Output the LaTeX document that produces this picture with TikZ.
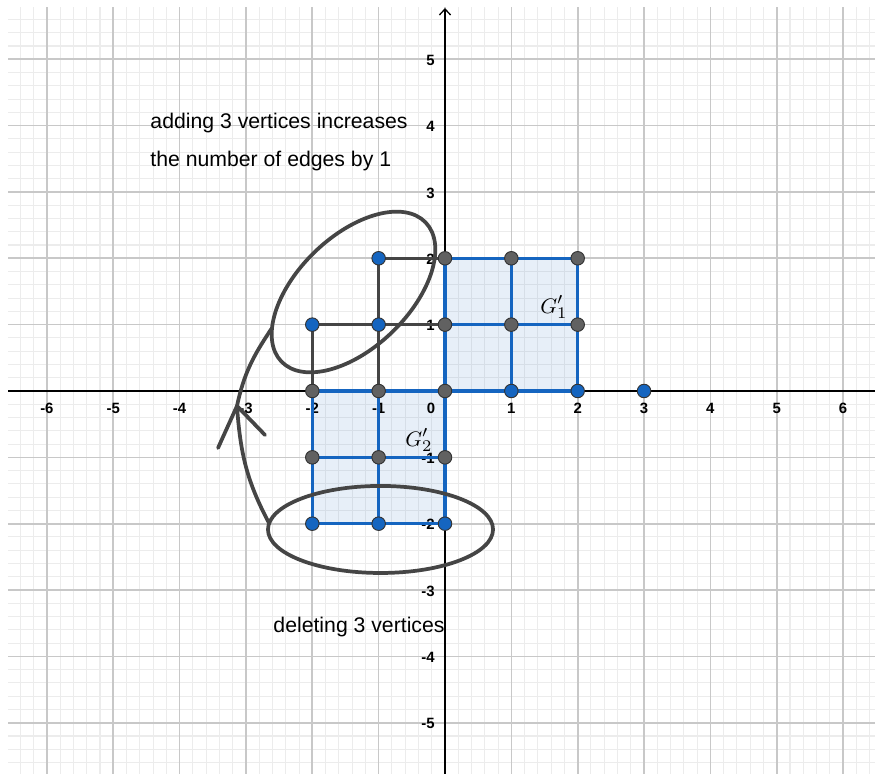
\documentclass[tikz,border=0pt]{standalone}
\usepackage{fontspec}
\setmainfont{Liberation Sans}
\usetikzlibrary{arrows.meta}
\definecolor{ggblue}{HTML}{1565C0}
\definecolor{gggray}{HTML}{616161}
\definecolor{ggdark}{HTML}{454545}
\definecolor{gridmaj}{HTML}{C8C8C8}
\definecolor{gridmin}{HTML}{ECECEC}
\tikzset{
  minorgrid/.style={gridmin, line width=0.45pt},
  majorgrid/.style={gridmaj, line width=0.7pt},
  axisline/.style={black, line width=0.55pt},
  sqfill/.style={fill=ggblue, fill opacity=0.1},
  bedge/.style={ggblue, line width=1.45pt},
  kedge/.style={ggdark, line width=1.45pt},
  loopline/.style={ggdark, line width=1.6pt, line cap=round},
  bpt/.style={circle, draw=black!80, line width=0.4pt, fill=ggblue, inner sep=0pt, minimum size=5.8pt},
  gpt/.style={circle, draw=black!80, line width=0.4pt, fill=gggray, inner sep=0pt, minimum size=5.8pt},
  ticklab/.style={font=\fontsize{6.4}{7}\selectfont\bfseries, inner sep=0pt},
  note/.style={font=\fontsize{9.1}{11}\selectfont, inner sep=0pt, anchor=base west},
  glab/.style={font=\fontsize{9.4}{11}\selectfont, inner sep=0pt}
}
\begin{document}
\begin{tikzpicture}
\useasboundingbox (-6.707,-5.772) rectangle (6.481,5.893);
\fill[white] (-6.707,-5.772) rectangle (6.481,5.893);
% grid
\draw[minorgrid] (-6.58,-5.772) grid[step=0.2] (6.481,5.79);
\draw[majorgrid] (-6.58,-5.772) grid[step=1] (6.481,5.79);
% vertex positions
\coordinate (vnq) at (-1,2); \coordinate (vmp) at (-2,1); \coordinate (vnp) at (-1,1);
\coordinate (vpo) at (1,0); \coordinate (vqo) at (2,0); \coordinate (vro) at (3,0);
\coordinate (vmm) at (-2,-2); \coordinate (vnm) at (-1,-2); \coordinate (vom) at (0,-2);
\coordinate (voq) at (0,2); \coordinate (vpq) at (1,2); \coordinate (vqq) at (2,2);
\coordinate (vop) at (0,1); \coordinate (vpp) at (1,1); \coordinate (vqp) at (2,1);
\coordinate (vmo) at (-2,0); \coordinate (vno) at (-1,0); \coordinate (voo) at (0,0);
\coordinate (vmn) at (-2,-1); \coordinate (vnn) at (-1,-1); \coordinate (von) at (0,-1);
% shaded squares
\fill[sqfill] (voo) rectangle (vqq);
\fill[sqfill] (vmm) rectangle (voo);
% axes
\coordinate (xl) at (-6.58,0); \coordinate (xr) at (6.481,0);
\coordinate (yb) at (0,-5.772); \coordinate (yt) at (0,5.772);
\draw[axisline] (xl) -- (xr);
\draw[axisline, -{Straight Barb[length=2.6pt,width=4.8pt,line width=0.55pt]}] (yb) -- (yt);
% tick labels
\foreach \i in {-6,-5,-4,-3,-2,-1,1,2,3,4,5,6} {
  \node[ticklab] (xt\i) at (\i,-0.256) {\i};
}
\node[ticklab] (xt0) at (-0.21,-0.256) {0};
\foreach \i in {-5,-4,-3,-2,-1,1,2,3,4,5} {
  \node[ticklab, anchor=east] (yt\i) at (-0.15,\i-0.015) {\i};
}
% blue edges
\draw[bedge] (voo) -- (vpo) -- (vqo) -- (vqp) -- (vqq) -- (vpq) -- (voq) -- (vop) -- (voo);
\draw[bedge] (vpo) -- (vpp) -- (vpq);
\draw[bedge] (vop) -- (vpp) -- (vqp);
\draw[bedge] (vmm) -- (vnm) -- (vom) -- (von) -- (voo) -- (vno) -- (vmo) -- (vmn) -- (vmm);
\draw[bedge] (vnm) -- (vnn) -- (vno);
\draw[bedge] (vmn) -- (vnn) -- (von);
% dark edges
\draw[kedge] (vnq) -- (voq);
\draw[kedge] (vnq) -- (vnp) -- (vno);
\draw[kedge] (vmp) -- (vnp) -- (vop);
\draw[kedge] (vmp) -- (vmo);
% ellipses
\coordinate (c1) at (-1.379,1.492);
\coordinate (c2) at (-0.972,-2.087);
\draw[loopline, rotate around={44:(c1)}] (c1) ellipse[x radius=1.51, y radius=0.84];
\draw[loopline] (c2) ellipse[x radius=1.696, y radius=0.656];
% curved arrow
\coordinate (cs) at (-2.653,-1.989);
\coordinate (ct) at (-3.135,-0.226);
\coordinate (ce) at (-2.607,0.950);
\coordinate (a1) at (-3.421,-0.859);
\coordinate (a2) at (-2.713,-0.663);
\draw[loopline] (cs) to[out=118, in=-86] (ct);
\draw[loopline] (ct) to[out=78, in=236] (ce);
\draw[loopline] (ct) -- (a1);
\draw[loopline] (ct) -- (a2);
% points
\foreach \n in {vnq,vmp,vnp,vpo,vqo,vro,vmm,vnm,vom} { \node[bpt] (P\n) at (\n) {}; }
\foreach \n in {voq,vpq,vqq,vop,vpp,vqp,vmo,vno,voo,vmn,vnn,von} { \node[gpt] (P\n) at (\n) {}; }
% labels
\node[glab] (g1) at (1.643,1.266) {$G'_1$};
\node[glab] (g2) at (-0.392,-0.739) {$G'_2$};
\node[note] (t1) at (-4.446,3.949) {adding 3 vertices increases};
\node[note] (t2) at (-4.446,3.376) {the number of edges by 1};
\node[note] (t3) at (-2.592,-3.647) {deleting 3 vertices};
\end{tikzpicture}
\end{document}
